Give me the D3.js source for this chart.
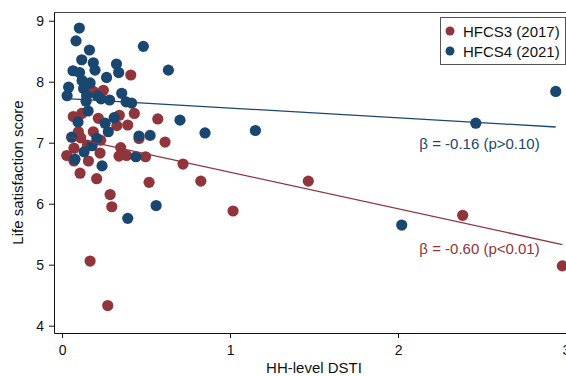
<!DOCTYPE html>
<html>
<head>
<meta charset="utf-8">
<script src="https://cdn.jsdelivr.net/npm/d3@7"></script>
<style>
  body { margin: 0; background: #fff; }
  #chart { width: 566px; height: 376px; }
  text { font-family: "Liberation Sans", Arial, sans-serif; }
</style>
</head>
<body>
<div id="chart"></div>
<script>
// HFCS3 (2017) : DSTI vs life satisfaction
const dstiHfcs3 = [0.409, 0.246, 0.186, 0.430, 0.341, 0.067, 0.117, 0.216, 0.570, 0.391,
  0.326, 0.097, 0.186, 0.458, 0.613, 0.111, 0.230, 0.071, 0.151, 0.349,
  0.028, 0.071, 0.157, 0.226, 0.339, 0.384, 0.497, 0.720, 0.107, 0.206,
  0.518, 0.826, 0.286, 0.296, 1.018, 1.466, 2.385, 2.978, 0.167, 0.272];
const lsHfcs3 = [8.11, 7.86, 7.84, 7.48, 7.45, 7.43, 7.48, 7.40, 7.39, 7.29,
  7.28, 7.18, 7.18, 7.07, 7.01, 7.08, 7.04, 6.91, 6.96, 6.92,
  6.79, 6.70, 6.70, 6.83, 6.78, 6.79, 6.77, 6.65, 6.50, 6.41,
  6.35, 6.37, 6.15, 5.95, 5.88, 6.37, 5.81, 4.98, 5.06, 4.33];

// HFCS4 (2021)
const dstiHfcs4 = [0.103, 0.083, 0.163, 0.484, 0.633, 0.117, 0.186, 0.196, 0.324, 0.337,
  0.265, 0.065, 0.104, 0.119, 0.167, 0.039, 0.030, 0.128, 0.146, 0.143,
  0.210, 0.232, 0.283, 0.355, 0.381, 0.414, 0.155, 0.095, 0.256, 0.310,
  0.275, 0.458, 0.524, 0.702, 0.851, 1.151, 0.057, 0.207, 0.179, 0.131,
  0.077, 0.440, 0.238, 0.560, 0.391, 2.022, 2.463, 2.939];
const lsHfcs4 = [8.88, 8.67, 8.52, 8.58, 8.19, 8.36, 8.31, 8.19, 8.29, 8.15,
  8.07, 8.18, 8.15, 8.02, 7.98, 7.91, 7.77, 7.89, 7.77, 7.68,
  7.77, 7.72, 7.70, 7.81, 7.67, 7.65, 7.52, 7.34, 7.32, 7.41,
  7.18, 7.11, 7.12, 7.37, 7.16, 7.20, 7.09, 7.07, 6.95, 6.85,
  6.73, 6.77, 6.62, 5.97, 5.76, 5.65, 7.32, 7.84];

// fitted lines (intercept, slope)
const fitHfcs3 = [7.117, -0.60];
const fitHfcs4 = [7.728, -0.16];

const seriesNames = ['HFCS3 (2017)', 'HFCS4 (2021)'];
const fitLabels = ['\u03b2 = -0.60 (p<0.01)', '\u03b2 = -0.16 (p>0.10)'];
const xTicks = [0, 1, 2, 3];
const yTicks = [4, 5, 6, 7, 8, 9];

const colors = ['#90353b', '#1a476f'];

const width = 566, height = 376;
const margin = { top: 12, right: 0, bottom: 43, left: 54 };

const svg = d3.select('#chart').append('svg')
  .attr('width', width)
  .attr('height', height);

const x = d3.scaleLinear().domain([-0.048, 3.0]).range([margin.left, width - margin.right]);
const y = d3.scaleLinear().domain([3.88, 9.143]).range([height - margin.bottom, margin.top]);

// frame top line
svg.append('line')
  .attr('x1', margin.left).attr('x2', width)
  .attr('y1', margin.top + 0.5).attr('y2', margin.top + 0.5)
  .attr('stroke', '#444').attr('stroke-width', 1);

// axes
const xAxis = svg.append('g')
  .attr('transform', `translate(0, ${height - margin.bottom})`)
  .call(d3.axisBottom(x).tickValues(xTicks).tickFormat(d3.format('d'))
    .tickSize(5).tickPadding(7).tickSizeOuter(0));
const yAxis = svg.append('g')
  .attr('transform', `translate(${margin.left}, 0)`)
  .call(d3.axisLeft(y).tickValues(yTicks).tickFormat(d3.format('d'))
    .tickSize(5).tickPadding(5).tickSizeOuter(0));

[xAxis, yAxis].forEach(a => {
  a.selectAll('text').style('font-size', '14px').attr('fill', '#111');
  a.selectAll('line').attr('stroke', '#111');
  a.select('.domain').attr('stroke', '#111');
});

// axis titles
svg.append('text')
  .attr('x', 314).attr('y', 373)
  .attr('text-anchor', 'middle')
  .style('font-size', '15px').attr('fill', '#111')
  .text('HH-level DSTI');
svg.append('text')
  .attr('transform', `translate(23, ${(margin.top + height - margin.bottom) / 2}) rotate(-90)`)
  .attr('text-anchor', 'middle')
  .style('font-size', '15px').attr('fill', '#111')
  .text('Life satisfaction score');

// scatter points
const series = [
  { xs: dstiHfcs3, ys: lsHfcs3, fit: fitHfcs3 },
  { xs: dstiHfcs4, ys: lsHfcs4, fit: fitHfcs4 }
];

series.forEach((s, i) => {
  svg.append('g').selectAll('circle')
    .data(s.xs.map((v, j) => [v, s.ys[j]]))
    .enter().append('circle')
    .attr('cx', d => x(d[0]))
    .attr('cy', d => y(d[1]))
    .attr('r', 5.6)
    .attr('fill', colors[i]);
});

// fit lines over the range of each series
const line = d3.line().x(d => x(d[0])).y(d => y(d[1]));
series.forEach((s, i) => {
  const ext = d3.extent(s.xs);
  svg.append('path')
    .attr('d', line(ext.map(v => [v, s.fit[0] + s.fit[1] * v])))
    .attr('fill', 'none')
    .attr('stroke', colors[i])
    .attr('stroke-width', 1.3);
});

// fit annotations
const labelPos = [[2.127, 5.175], [2.127, 6.897]];
fitLabels.forEach((t, i) => {
  svg.append('text')
    .attr('x', x(labelPos[i][0])).attr('y', y(labelPos[i][1]))
    .style('font-size', '15px')
    .attr('fill', colors[i])
    .text(t);
});

// legend
const legend = svg.append('g').attr('transform', 'translate(440, 17)');
legend.append('rect')
  .attr('x', 0.5).attr('y', 0.5)
  .attr('width', 125).attr('height', 47)
  .attr('fill', '#fff').attr('stroke', '#555');
seriesNames.forEach((n, i) => {
  legend.append('circle')
    .attr('cx', 10).attr('cy', 14 + i * 20)
    .attr('r', 4.5).attr('fill', colors[i]);
  legend.append('text')
    .attr('x', 23).attr('y', 19.5 + i * 20)
    .style('font-size', '15px').attr('fill', '#111')
    .text(n);
});
</script>
</body>
</html>
